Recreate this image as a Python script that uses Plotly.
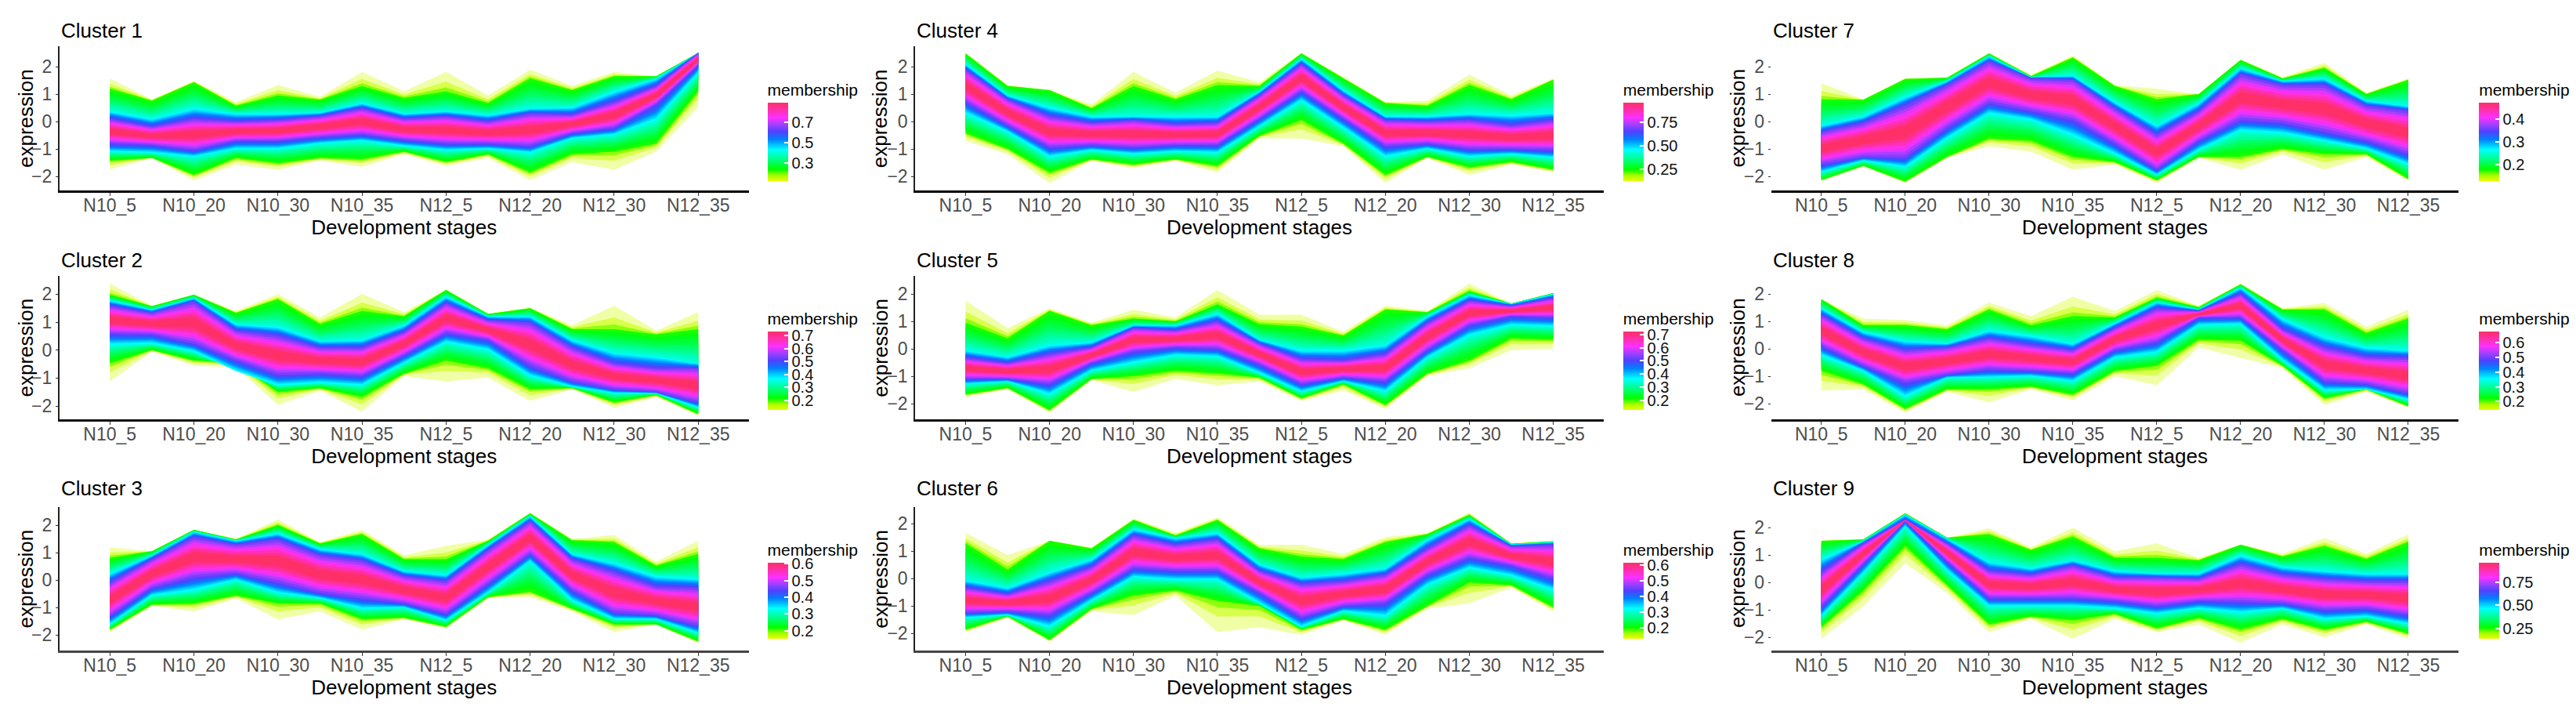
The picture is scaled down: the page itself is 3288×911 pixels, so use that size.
import plotly.graph_objects as go

W, H = 3288, 911
FIG_W, FIG_H = 3272, 895
PAGE_OFF = 8
FONT = "Liberation Sans"
STAGES = ["N10_5", "N10_20", "N10_30", "N10_35", "N12_5", "N12_20", "N12_30", "N12_35"]
TITLE_X = "Development stages"
TITLE_Y = "expression"
CBAR_TITLE = "membership"

# Envelopes of the membership-coloured line bundles (expression units):
# tip = sparse yellow extreme, grn = green edge, cyn = cyan edge, pur = purple edge
# *_s = value at each stage, *_m = value half-way between neighbouring stages
c1_tip_up_s = [1.57, 1.48, 1.33, 1.81, 1.81, 1.89, 1.81, 2.50]
c1_tip_up_m = [0.81, 0.71, 0.90, 1.10, 0.95, 1.30, 1.65]
c1_grn_up_s = [1.19, 1.43, 0.95, 1.29, 1.10, 1.57, 1.65, 2.50]
c1_grn_up_m = [0.76, 0.57, 0.79, 0.86, 0.67, 1.14, 1.65]
c1_cyn_up_s = [0.38, 0.48, 0.29, 0.67, 0.38, 0.48, 1.10, 2.50]
c1_cyn_up_m = [0.10, 0.29, 0.33, 0.29, 0.24, 0.52, 1.57]
c1_pur_up_s = [0.10, 0.10, 0.05, 0.48, 0.19, 0.29, 0.71, 2.50]
c1_pur_up_m = [-0.19, 0.00, 0.19, 0.10, 0.00, 0.24, 1.29]
c1_pur_lo_s = [-0.81, -1.05, -0.71, -0.48, -0.81, -0.90, -0.24, 2.05]
c1_pur_lo_m = [-0.86, -0.71, -0.57, -0.67, -0.81, -0.43, 0.62]
c1_cyn_lo_s = [-1.10, -1.29, -1.00, -0.71, -1.05, -1.14, -0.48, 1.76]
c1_cyn_lo_m = [-1.14, -1.00, -0.81, -0.90, -1.00, -0.62, 0.05]
c1_grn_lo_s = [-1.43, -1.95, -1.52, -1.38, -1.48, -1.86, -1.10, 1.10]
c1_grn_lo_m = [-1.33, -1.33, -1.33, -1.10, -1.19, -1.19, -0.81]
c1_tip_lo_s = [-1.76, -2.14, -1.76, -1.65, -1.62, -2.14, -1.76, 0.52]
c1_tip_lo_m = [-1.33, -1.57, -1.43, -1.19, -1.33, -1.48, -1.10]

c2_tip_up_s = [2.38, 1.98, 2.01, 2.01, 2.17, 1.51, 1.59, 1.36]
c2_tip_up_m = [1.59, 1.40, 1.17, 1.36, 1.31, 0.89, 0.70]
c2_grn_up_s = [1.98, 1.98, 1.82, 1.40, 2.15, 1.50, 0.75, 0.75]
c2_grn_up_m = [1.57, 1.33, 0.93, 1.21, 1.29, 0.75, 0.56]
c2_cyn_up_s = [1.78, 1.87, 0.84, 0.37, 1.92, 1.21, -0.09, -0.47]
c2_cyn_up_m = [1.45, 0.93, 0.33, 0.89, 1.21, 0.37, -0.23]
c2_pur_up_s = [1.59, 1.73, 0.51, 0.09, 1.68, 0.98, -0.47, -0.65]
c2_pur_up_m = [1.33, 0.70, 0.09, 0.65, 1.07, 0.09, -0.65]
c2_pur_lo_s = [0.58, 0.23, -0.89, -0.93, 0.61, -0.56, -1.40, -1.87]
c2_pur_lo_m = [0.56, -0.37, -0.84, -0.19, 0.37, -1.12, -1.50]
c2_cyn_lo_s = [0.19, -0.05, -1.26, -1.26, 0.28, -0.93, -1.54, -2.06]
c2_cyn_lo_m = [0.23, -0.75, -1.17, -0.47, 0.00, -1.31, -1.54]
c2_grn_lo_s = [-0.47, -0.37, -1.50, -1.68, -0.37, -1.40, -1.87, -2.29]
c2_grn_lo_m = [0.00, -0.47, -1.36, -0.84, -0.65, -1.36, -1.61]
c2_tip_lo_s = [-1.12, -0.56, -1.96, -2.20, -1.12, -1.82, -2.06, -2.34]
c2_tip_lo_m = [-0.05, -0.61, -1.45, -0.93, -0.98, -1.40, -1.68]

c3_tip_up_s = [1.19, 1.83, 2.21, 1.83, 1.24, 2.46, 1.64, 1.43]
c3_tip_up_m = [1.05, 1.50, 1.38, 0.90, 1.48, 1.50, 0.67]
c3_grn_up_s = [0.81, 1.83, 2.00, 1.67, 0.76, 2.43, 1.38, 0.95]
c3_grn_up_m = [1.05, 1.48, 1.33, 0.76, 1.43, 1.45, 0.52]
c3_cyn_up_s = [0.24, 1.76, 1.71, 0.95, 0.19, 2.33, 0.62, 0.05]
c3_cyn_up_m = [0.90, 1.43, 1.14, 0.33, 1.29, 0.95, 0.14]
c3_pur_up_s = [-0.10, 1.57, 1.48, 0.71, -0.05, 2.14, 0.29, -0.29]
c3_pur_up_m = [0.76, 1.29, 0.90, 0.14, 1.10, 0.76, -0.24]
c3_pur_lo_s = [-1.33, 0.10, -0.10, -0.67, -1.24, 0.95, -1.19, -1.67]
c3_pur_lo_m = [-0.29, 0.24, -0.48, -0.86, -0.14, -0.38, -1.29]
c3_cyn_lo_s = [-1.62, -0.38, -0.48, -1.05, -1.48, 0.67, -1.43, -1.95]
c3_cyn_lo_m = [-0.57, 0.00, -0.67, -1.00, -0.48, -0.76, -1.43]
c3_grn_lo_s = [-1.81, -0.86, -0.86, -1.43, -1.71, -0.43, -1.62, -2.24]
c3_grn_lo_m = [-0.90, -0.57, -0.86, -1.38, -0.62, -1.05, -1.62]
c3_tip_lo_s = [-1.90, -1.14, -1.43, -1.81, -1.76, -0.62, -1.90, -2.30]
c3_tip_lo_m = [-0.95, -0.67, -1.14, -1.43, -0.67, -1.14, -1.62]

c4_tip_up_s = [2.50, 1.14, 1.81, 1.86, 2.50, 0.71, 1.71, 1.57]
c4_tip_up_m = [1.33, 0.62, 1.05, 1.43, 1.62, 0.76, 0.95]
c4_grn_up_s = [2.48, 1.14, 1.29, 1.33, 2.48, 0.67, 1.33, 1.52]
c4_grn_up_m = [1.29, 0.48, 0.81, 1.29, 1.57, 0.57, 0.81]
c4_cyn_up_s = [2.10, 0.52, 0.19, 0.19, 2.29, 0.19, 0.29, 0.33]
c4_cyn_up_m = [0.95, 0.19, 0.19, 1.10, 1.14, 0.19, 0.24]
c4_pur_up_s = [1.90, 0.19, 0.05, -0.05, 2.10, 0.05, 0.05, 0.05]
c4_pur_up_m = [0.81, -0.05, -0.10, 0.95, 0.95, 0.00, -0.14]
c4_pur_lo_s = [0.71, -0.95, -0.95, -0.86, 1.10, -0.90, -1.00, -1.05]
c4_pur_lo_m = [-0.14, -0.86, -0.86, 0.10, 0.10, -0.81, -1.00]
c4_cyn_lo_s = [0.29, -1.29, -1.19, -1.14, 0.76, -1.29, -1.29, -1.33]
c4_cyn_lo_m = [-0.38, -1.05, -1.10, -0.19, -0.24, -1.00, -1.19]
c4_grn_lo_s = [-0.43, -1.86, -1.57, -1.62, 0.05, -1.95, -1.67, -1.76]
c4_grn_lo_m = [-1.00, -1.38, -1.38, -0.52, -0.81, -1.29, -1.48]
c4_tip_lo_s = [-0.71, -2.24, -1.71, -1.86, -0.62, -2.24, -1.95, -1.86]
c4_tip_lo_m = [-1.19, -1.43, -1.43, -0.62, -0.90, -1.33, -1.57]

c5_tip_up_s = [1.76, 1.48, 1.43, 2.14, 1.24, 1.57, 2.38, 2.03]
c5_tip_up_m = [0.76, 0.95, 1.14, 1.24, 0.62, 1.38, 1.65]
c5_grn_up_s = [0.95, 1.38, 1.10, 1.62, 0.81, 1.43, 2.10, 2.03]
c5_grn_up_m = [0.38, 0.86, 1.00, 0.90, 0.48, 1.33, 1.65]
c5_cyn_up_s = [-0.05, 0.14, 0.86, 1.29, -0.05, 0.14, 1.97, 1.99]
c5_cyn_up_m = [-0.29, 0.24, 0.86, 0.33, -0.05, 1.19, 1.64]
c5_pur_up_s = [-0.33, -0.19, 0.76, 1.00, -0.38, -0.19, 1.76, 1.86]
c5_pur_up_m = [-0.52, 0.05, 0.67, 0.19, -0.43, 0.95, 1.57]
c5_pur_lo_s = [-1.10, -1.29, -0.10, 0.00, -1.29, -1.19, 0.86, 1.14]
c5_pur_lo_m = [-1.10, -0.52, 0.05, -0.57, -1.05, -0.05, 1.19]
c5_cyn_lo_s = [-1.29, -1.67, -0.52, -0.29, -1.57, -1.57, 0.48, 0.81]
c5_cyn_lo_m = [-1.19, -0.81, -0.24, -0.90, -1.19, -0.33, 0.86]
c5_grn_lo_s = [-1.67, -2.24, -1.00, -0.90, -1.81, -2.05, -0.43, 0.33]
c5_grn_lo_m = [-1.43, -1.10, -0.81, -1.05, -1.29, -0.90, 0.38]
c5_tip_lo_s = [-1.76, -2.33, -1.57, -1.33, -1.90, -2.19, -0.71, 0.00]
c5_tip_lo_m = [-1.48, -1.14, -1.10, -1.19, -1.52, -1.00, -0.05]

c6_tip_up_s = [1.67, 1.38, 2.19, 2.24, 1.24, 1.52, 2.41, 1.38]
c6_tip_up_m = [0.86, 1.14, 1.67, 1.24, 0.90, 1.67, 1.29]
c6_grn_up_s = [1.29, 1.38, 2.14, 2.14, 0.81, 1.33, 2.33, 1.36]
c6_grn_up_m = [0.33, 1.10, 1.57, 1.10, 0.71, 1.62, 1.27]
c6_cyn_up_s = [-0.05, 0.24, 1.81, 1.67, 0.05, 0.38, 2.19, 1.33]
c6_cyn_up_m = [-0.33, 0.71, 1.48, 0.52, 0.19, 1.43, 1.24]
c6_pur_up_s = [-0.33, -0.10, 1.57, 1.43, -0.19, 0.14, 1.95, 1.24]
c6_pur_up_m = [-0.57, 0.43, 1.24, 0.29, -0.10, 1.10, 1.19]
c6_pur_lo_s = [-1.24, -1.33, 0.38, 0.29, -1.43, -0.90, 0.76, 0.00]
c6_pur_lo_m = [-1.19, -0.52, 0.29, -0.52, -1.00, 0.14, 0.48]
c6_cyn_lo_s = [-1.43, -1.76, 0.05, -0.05, -1.76, -1.38, 0.38, -0.43]
c6_cyn_lo_m = [-1.33, -0.81, -0.05, -0.90, -1.19, -0.24, 0.10]
c6_grn_lo_s = [-1.86, -2.24, -0.62, -0.81, -1.86, -1.86, -0.14, -1.05]
c6_grn_lo_m = [-1.38, -1.10, -0.43, -1.00, -1.48, -1.00, -0.24]
c6_tip_lo_s = [-1.95, -2.29, -1.33, -1.95, -2.05, -2.05, -0.90, -1.19]
c6_tip_lo_m = [-1.43, -1.19, -0.62, -1.76, -1.52, -1.10, -0.33]

c7_tip_up_s = [1.40, 1.57, 2.50, 2.41, 1.19, 2.26, 2.14, 1.57]
c7_tip_up_m = [0.81, 1.62, 1.71, 1.33, 1.00, 1.62, 1.05]
c7_grn_up_s = [0.81, 1.55, 2.48, 2.33, 0.81, 2.24, 1.95, 1.52]
c7_grn_up_m = [0.79, 1.59, 1.65, 1.29, 1.00, 1.57, 1.00]
c7_cyn_up_s = [-0.14, 0.90, 2.38, 1.67, -0.14, 1.95, 1.57, 0.57]
c7_cyn_up_m = [0.19, 1.48, 1.62, 0.71, 0.67, 1.48, 0.76]
c7_pur_up_s = [-0.38, 0.57, 2.19, 1.52, -0.48, 1.71, 1.33, 0.38]
c7_pur_up_m = [-0.05, 1.33, 1.57, 0.48, 0.38, 1.33, 0.57]
c7_pur_lo_s = [-1.57, -1.33, 0.67, 0.05, -1.76, 0.05, -0.38, -1.19]
c7_pur_lo_m = [-1.29, -0.24, 0.38, -0.81, -0.71, -0.05, -0.71]
c7_cyn_lo_s = [-1.86, -1.67, 0.29, -0.52, -1.95, -0.33, -0.71, -1.57]
c7_cyn_lo_m = [-1.43, -0.62, 0.05, -1.19, -1.05, -0.43, -1.00]
c7_grn_lo_s = [-2.14, -2.19, -0.62, -1.29, -2.14, -1.29, -1.19, -2.10]
c7_grn_lo_m = [-1.62, -1.29, -0.71, -1.48, -1.29, -1.00, -1.19]
c7_tip_lo_s = [-2.16, -2.24, -0.90, -1.76, -2.24, -1.76, -1.76, -2.16]
c7_tip_lo_m = [-1.62, -1.33, -1.10, -1.57, -1.33, -1.19, -1.29]

c8_tip_up_s = [1.81, 1.05, 1.69, 1.90, 2.14, 2.38, 1.67, 1.43]
c8_tip_up_m = [1.10, 0.86, 1.19, 1.38, 1.57, 1.48, 0.81]
c8_grn_up_s = [1.81, 0.86, 1.43, 1.19, 1.86, 2.35, 1.43, 1.10]
c8_grn_up_m = [0.86, 0.71, 0.86, 1.14, 1.52, 1.43, 0.57]
c8_cyn_up_s = [1.48, 0.29, 0.67, 0.19, 1.71, 2.24, 0.43, -0.05]
c8_cyn_up_m = [0.62, 0.19, 0.48, 0.95, 1.43, 1.10, 0.05]
c8_pur_up_s = [1.24, -0.05, 0.38, -0.05, 1.48, 2.00, 0.05, -0.33]
c8_pur_up_m = [0.38, 0.05, 0.14, 0.76, 1.38, 0.71, -0.29]
c8_pur_lo_s = [0.10, -1.24, -0.76, -0.90, 0.24, 1.14, -1.19, -1.62]
c8_pur_lo_m = [-0.62, -0.95, -0.81, -0.05, 1.14, -0.05, -1.29]
c8_cyn_lo_s = [-0.24, -1.76, -1.05, -1.19, -0.14, 0.90, -1.52, -1.86]
c8_cyn_lo_m = [-0.81, -1.05, -1.00, -0.33, 0.86, -0.43, -1.48]
c8_grn_lo_s = [-0.81, -2.19, -1.48, -1.67, -0.62, 0.29, -1.81, -2.10]
c8_grn_lo_m = [-1.29, -1.48, -1.38, -0.81, 0.33, -0.62, -1.48]
c8_tip_lo_s = [-1.52, -2.33, -1.95, -1.88, -1.33, -0.33, -2.05, -2.14]
c8_tip_lo_m = [-1.48, -1.57, -1.48, -1.00, 0.05, -0.71, -1.57]

c9_tip_up_s = [1.52, 2.55, 1.98, 2.00, 1.43, 1.38, 1.62, 1.76]
c9_tip_up_m = [1.57, 1.64, 1.29, 1.14, 0.90, 1.05, 1.05]
c9_grn_up_s = [1.52, 2.52, 1.76, 1.67, 0.90, 1.38, 1.33, 1.48]
c9_grn_up_m = [1.57, 1.64, 1.19, 0.90, 0.81, 0.95, 0.86]
c9_cyn_up_s = [0.86, 2.48, 0.76, 0.81, 0.33, 1.00, 0.43, 0.33]
c9_cyn_up_m = [1.52, 1.60, 0.52, 0.43, 0.33, 0.57, 0.33]
c9_pur_up_s = [0.38, 2.29, 0.43, 0.62, 0.19, 0.67, 0.14, 0.05]
c9_pur_up_m = [1.43, 1.43, 0.29, 0.19, 0.14, 0.29, 0.05]
c9_pur_lo_s = [-0.90, 2.24, -0.57, -0.57, -0.86, -0.71, -1.00, -1.19]
c9_pur_lo_m = [0.67, 0.76, -0.57, -0.67, -0.67, -0.76, -0.95]
c9_cyn_lo_s = [-1.24, 2.05, -0.86, -0.86, -1.14, -1.10, -1.33, -1.52]
c9_cyn_lo_m = [0.33, 0.43, -0.86, -0.95, -0.95, -0.95, -1.24]
c9_grn_lo_s = [-1.62, 1.33, -1.52, -1.38, -1.67, -1.71, -1.71, -1.86]
c9_grn_lo_m = [-0.29, -0.10, -1.24, -1.14, -1.29, -1.33, -1.43]
c9_tip_lo_s = [-2.05, 0.71, -1.81, -2.05, -1.81, -2.19, -2.00, -2.05]
c9_tip_lo_m = [-0.86, -0.38, -1.33, -1.33, -1.52, -1.52, -1.52]

# Colour-bar value ranges and ticks per cluster
c1_ticks = [0.3, 0.5, 0.7]
c2_ticks = [0.2, 0.3, 0.4, 0.5, 0.6, 0.7]
c3_ticks = [0.2, 0.3, 0.4, 0.5, 0.6]
c4_ticks = [0.25, 0.50, 0.75]
c5_ticks = [0.2, 0.3, 0.4, 0.5, 0.6, 0.7]
c6_ticks = [0.2, 0.3, 0.4, 0.5, 0.6]
c7_ticks = [0.2, 0.3, 0.4]
c8_ticks = [0.2, 0.3, 0.4, 0.5, 0.6]
c9_ticks = [0.25, 0.50, 0.75]
cbar_lo = [0.126, 0.124, 0.152, 0.126, 0.128, 0.133, 0.125, 0.144, 0.141]
cbar_hi = [0.894, 0.732, 0.606, 0.961, 0.723, 0.613, 0.475, 0.676, 0.957]

STOPS = [(0.00, "#E6FF00"), (0.07, "#AAFF00"), (0.15, "#00FF00"), (0.27, "#00FF80"),
         (0.40, "#00FFFF"), (0.53, "#0080FF"), (0.63, "#5040FF"), (0.72, "#A040FF"),
         (0.81, "#FF30FF"), (0.90, "#FF30B0"), (1.00, "#FF3068")]


def rgb(h):
    return tuple(int(h[i:i + 2], 16) for i in (1, 3, 5))


def col(m, a=1.0):
    m = max(0.0, min(1.0, m))
    for (m0, c0), (m1, c1) in zip(STOPS, STOPS[1:]):
        if m <= m1:
            f = (m - m0) / (m1 - m0)
            r = [round(u + (v - u) * f) for u, v in zip(rgb(c0), rgb(c1))]
            return f"rgba({r[0]},{r[1]},{r[2]},{a})"
    return STOPS[-1][1]


def weave(stage, mid):
    out = []
    for i, s in enumerate(stage):
        out.append(s)
        if i < len(mid):
            out.append(mid[i])
    return out


# Nested levels: (position along tip->grn->cyn->pur->centre, membership, opacity)
LEVELS = [(0.0, 0.02, 0.35), (0.5, 0.04, 0.55), (0.8, 0.09, 0.85), (1.0, 0.14, 1)]
LEVELS += [(1 + i / 8, 0.15 + 0.25 * (i / 8) ** 1.3, 1) for i in range(1, 9)]
LEVELS += [(2 + i / 8, 0.40 + 0.28 * i / 8, 1) for i in range(1, 9)]
LEVELS += [(3 + i / 8, 0.68 + 0.32 * min(1, i / 6), 1) for i in range(1, 8)]

clusters = [
    [weave(c1_tip_up_s, c1_tip_up_m), weave(c1_grn_up_s, c1_grn_up_m), weave(c1_cyn_up_s, c1_cyn_up_m), weave(c1_pur_up_s, c1_pur_up_m),
     weave(c1_pur_lo_s, c1_pur_lo_m), weave(c1_cyn_lo_s, c1_cyn_lo_m), weave(c1_grn_lo_s, c1_grn_lo_m), weave(c1_tip_lo_s, c1_tip_lo_m), c1_ticks],
    [weave(c2_tip_up_s, c2_tip_up_m), weave(c2_grn_up_s, c2_grn_up_m), weave(c2_cyn_up_s, c2_cyn_up_m), weave(c2_pur_up_s, c2_pur_up_m),
     weave(c2_pur_lo_s, c2_pur_lo_m), weave(c2_cyn_lo_s, c2_cyn_lo_m), weave(c2_grn_lo_s, c2_grn_lo_m), weave(c2_tip_lo_s, c2_tip_lo_m), c2_ticks],
    [weave(c3_tip_up_s, c3_tip_up_m), weave(c3_grn_up_s, c3_grn_up_m), weave(c3_cyn_up_s, c3_cyn_up_m), weave(c3_pur_up_s, c3_pur_up_m),
     weave(c3_pur_lo_s, c3_pur_lo_m), weave(c3_cyn_lo_s, c3_cyn_lo_m), weave(c3_grn_lo_s, c3_grn_lo_m), weave(c3_tip_lo_s, c3_tip_lo_m), c3_ticks],
    [weave(c4_tip_up_s, c4_tip_up_m), weave(c4_grn_up_s, c4_grn_up_m), weave(c4_cyn_up_s, c4_cyn_up_m), weave(c4_pur_up_s, c4_pur_up_m),
     weave(c4_pur_lo_s, c4_pur_lo_m), weave(c4_cyn_lo_s, c4_cyn_lo_m), weave(c4_grn_lo_s, c4_grn_lo_m), weave(c4_tip_lo_s, c4_tip_lo_m), c4_ticks],
    [weave(c5_tip_up_s, c5_tip_up_m), weave(c5_grn_up_s, c5_grn_up_m), weave(c5_cyn_up_s, c5_cyn_up_m), weave(c5_pur_up_s, c5_pur_up_m),
     weave(c5_pur_lo_s, c5_pur_lo_m), weave(c5_cyn_lo_s, c5_cyn_lo_m), weave(c5_grn_lo_s, c5_grn_lo_m), weave(c5_tip_lo_s, c5_tip_lo_m), c5_ticks],
    [weave(c6_tip_up_s, c6_tip_up_m), weave(c6_grn_up_s, c6_grn_up_m), weave(c6_cyn_up_s, c6_cyn_up_m), weave(c6_pur_up_s, c6_pur_up_m),
     weave(c6_pur_lo_s, c6_pur_lo_m), weave(c6_cyn_lo_s, c6_cyn_lo_m), weave(c6_grn_lo_s, c6_grn_lo_m), weave(c6_tip_lo_s, c6_tip_lo_m), c6_ticks],
    [weave(c7_tip_up_s, c7_tip_up_m), weave(c7_grn_up_s, c7_grn_up_m), weave(c7_cyn_up_s, c7_cyn_up_m), weave(c7_pur_up_s, c7_pur_up_m),
     weave(c7_pur_lo_s, c7_pur_lo_m), weave(c7_cyn_lo_s, c7_cyn_lo_m), weave(c7_grn_lo_s, c7_grn_lo_m), weave(c7_tip_lo_s, c7_tip_lo_m), c7_ticks],
    [weave(c8_tip_up_s, c8_tip_up_m), weave(c8_grn_up_s, c8_grn_up_m), weave(c8_cyn_up_s, c8_cyn_up_m), weave(c8_pur_up_s, c8_pur_up_m),
     weave(c8_pur_lo_s, c8_pur_lo_m), weave(c8_cyn_lo_s, c8_cyn_lo_m), weave(c8_grn_lo_s, c8_grn_lo_m), weave(c8_tip_lo_s, c8_tip_lo_m), c8_ticks],
    [weave(c9_tip_up_s, c9_tip_up_m), weave(c9_grn_up_s, c9_grn_up_m), weave(c9_cyn_up_s, c9_cyn_up_m), weave(c9_pur_up_s, c9_pur_up_m),
     weave(c9_pur_lo_s, c9_pur_lo_m), weave(c9_cyn_lo_s, c9_cyn_lo_m), weave(c9_grn_lo_s, c9_grn_lo_m), weave(c9_tip_lo_s, c9_tip_lo_m), c9_ticks],
]

# Page layout in pixels
COL_L = [76, 1170, 2264]
COL_R = [957, 2050, 3143]
COL_BAR = [981, 2075, 3169]
COL_YTITLE = [33, 1125, 2221]
ROW_T = [59, 352, 647]
ROW_B = [243, 535, 830]
ROW_BAR = [(103, 231), (395, 523), (690, 815)]
ROW_TITLE = [39, 332, 623]
ZERO = [155, 446.7, 740, 155, 445, 738.3, 155, 445, 743.3]
UNIT = [35, 35.67, 35, 35, 35, 35, 35, 35, 35]
AXIS_COLOR = ["#000000", "#111111", "#444444"]


def px_x(p):
    return (p - PAGE_OFF) / FIG_W


def px_y(p):
    return 1 - (p - PAGE_OFF) / FIG_H


fig = go.Figure()
annotations = []
layout = {}
tick_x = list(range(8))
xs = [i / 2 for i in range(15)]
for k, cl in enumerate(clusters):
    c, r = k // 3, k % 3
    name = "" if k == 0 else str(k + 1)
    centre = [(a + b) / 2 for a, b in zip(cl[3], cl[4])]
    ups = [cl[0], cl[1], cl[2], cl[3], centre]
    los = [cl[7], cl[6], cl[5], cl[4], centre]
    for p, m, a in LEVELS:
        i = min(int(p), 3)
        f = p - i
        yu = [u0 + (u1 - u0) * f for u0, u1 in zip(ups[i], ups[i + 1])]
        yl = [l0 + (l1 - l0) * f for l0, l1 in zip(los[i], los[i + 1])]
        fig.add_trace(go.Scatter(
            x=xs + xs[::-1], y=yu + yl[::-1], mode="lines", fill="toself",
            fillcolor=col(m, a), line=dict(width=0), hoverinfo="skip", showlegend=False,
            xaxis="x" + name, yaxis="y" + name))
    b0, b1 = ROW_BAR[r]
    cs = [[m, h] for m, h in STOPS]
    ticks = cl[8]
    fig.add_trace(go.Scatter(
        x=[0, 0], y=[0, 0], mode="markers", showlegend=False, hoverinfo="skip",
        xaxis="x" + name, yaxis="y" + name,
        marker=dict(size=1, opacity=0, color=[cbar_lo[k], cbar_hi[k]], cmin=cbar_lo[k], cmax=cbar_hi[k],
                    colorscale=cs, showscale=True,
                    colorbar=dict(
                        x=px_x(COL_BAR[c]), xanchor="left", xpad=0, ypad=0,
                        y=px_y(b0), yanchor="top", len=(b1 - b0) / FIG_H, lenmode="fraction",
                        thickness=26, thicknessmode="pixels", outlinewidth=0, borderwidth=0,
                        tickvals=ticks, ticktext=[f"{v:.2f}" if k in (3, 8) else f"{v:.1f}" for v in ticks],
                        ticks="inside", ticklen=5, tickwidth=1.5, tickcolor="white",
                        tickfont=dict(family=FONT, size=20, color="#111111"),
                        title=dict(text=CBAR_TITLE, side="top", font=dict(family=FONT, size=21, color="#000000"))))))
    hi = (ZERO[k] - ROW_T[r]) / UNIT[k]
    lo = (ZERO[k] - ROW_B[r]) / UNIT[k]
    layout["xaxis" + name] = dict(
        domain=[px_x(COL_L[c]), px_x(COL_R[c])], range=[-0.6, 7.6], anchor="y" + name,
        tickmode="array", tickvals=tick_x, ticktext=STAGES, showgrid=False, zeroline=False,
        showline=True, linecolor=AXIS_COLOR[r], linewidth=3, ticks="outside", ticklen=4, tickwidth=1,
        tickcolor="#333333", ticklabelstandoff=-8, tickfont=dict(family=FONT, size=23, color="#4D4D4D"),
        title=dict(text=TITLE_X, standoff=6, font=dict(family=FONT, size=26, color="#000000")))
    layout["yaxis" + name] = dict(
        domain=[px_y(ROW_B[r]), px_y(ROW_T[r])], range=[lo, hi], anchor="x" + name,
        tickmode="array", tickvals=[-2, -1, 0, 1, 2], showgrid=False, zeroline=False,
        showline=c < 2, linecolor="#222222", linewidth=2, ticks="outside", ticklen=3, tickwidth=1,
        tickcolor="#333333", tickfont=dict(family=FONT, size=23, color="#4D4D4D"))
    annotations.append(dict(
        text=f"Cluster {k + 1}", xref="paper", yref="paper", showarrow=False,
        x=px_x(COL_L[c]), y=px_y(ROW_TITLE[r]), xanchor="left", yanchor="middle",
        font=dict(family=FONT, size=26, color="#000000")))
    annotations.append(dict(
        text=TITLE_Y, xref="paper", yref="paper", showarrow=False, textangle=-90,
        x=px_x(COL_YTITLE[c]), y=px_y((ROW_T[r] + ROW_B[r]) / 2), xanchor="center", yanchor="middle",
        font=dict(family=FONT, size=26, color="#000000")))

fig.update_layout(width=FIG_W, height=FIG_H, margin=dict(l=0, r=0, t=0, b=0), plot_bgcolor="white",
                  paper_bgcolor="white", annotations=annotations, showlegend=False, **layout)
fig.write_html("out.html")
